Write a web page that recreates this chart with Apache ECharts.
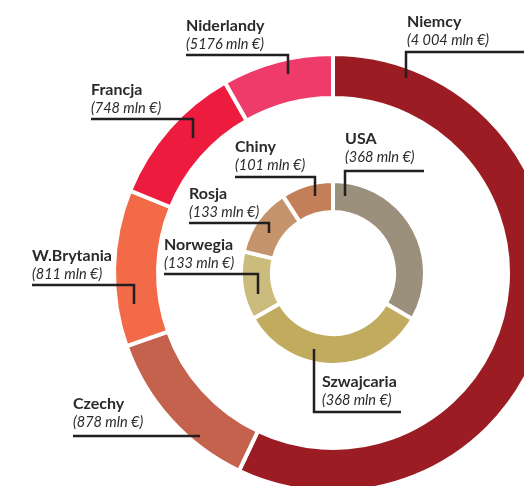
<!DOCTYPE html>
<html>
<head>
<meta charset="utf-8">
<script src="https://cdn.jsdelivr.net/npm/echarts@6/dist/echarts.min.js"></script>
<style>
  html, body { margin: 0; padding: 0; background: #fff; }
  #chart { width: 524px; height: 486px; }
</style>
</head>
<body>
<div id="chart"></div>
<script>
// Export partners, outer ring (mln €)
const outerNames = ['Niemcy', 'Czechy', 'W.Brytania', 'Francja', 'Niderlandy'];
const outerValues = [4004, 878, 811, 748, 576];
const outerValueText = ['4 004', '878', '811', '748', '5176'];
const outerColors = ['#9b1c23', '#c4624e', '#f26a48', '#ed1b3e', '#ef3b69'];

// Export partners, inner ring (mln €)
const innerNames = ['USA', 'Szwajcaria', 'Norwegia', 'Rosja', 'Chiny'];
const innerValues = [368, 368, 133, 133, 101];
const innerValueText = innerValues.map(String);
const innerColors = ['#9a907b', '#c1ab5e', '#cbbb7c', '#c6946c', '#c38058'];

const CX = 333, CY = 273;
const INK = '#2b2a29';
const FONT = 'Lato, sans-serif';

// Label placement: text block top-left and leader polyline
const outerLayout = [
  { x: 407, y: 13, line: [[406, 78], [406, 52], [530, 52]] },
  { x: 73, y: 395, line: [[200, 436], [73, 436]] },
  { x: 32, y: 247, line: [[134, 304], [134, 285], [32, 285]] },
  { x: 91, y: 81, line: [[193, 138], [193, 119], [91, 119]] },
  { x: 186, y: 17, line: [[288, 74], [288, 55], [186, 55]] }
];
const innerLayout = [
  { x: 345, y: 130, line: [[345, 196], [345, 171], [424, 171]] },
  { x: 322, y: 373, line: [[314, 349], [314, 412], [401, 412]] },
  { x: 164, y: 236, line: [[258, 294], [258, 274], [164, 274]] },
  { x: 189, y: 185, line: [[269, 233], [269, 223], [189, 223]] },
  { x: 235, y: 138, line: [[315, 196], [315, 177], [235, 177]] }
];

function ringData(names, values, colors) {
  return names.map((n, i) => ({ name: n, value: values[i], itemStyle: { color: colors[i] } }));
}

const richStyle = {
  n: { fontFamily: FONT, fontWeight: 'bold', fontSize: 16, lineHeight: 18, color: INK },
  v: { fontFamily: FONT, fontStyle: 'italic', fontSize: 14.5, lineHeight: 18, color: INK }
};

function ringSeries(names, values, colors, texts, layout, radius) {
  return {
    type: 'pie',
    center: [CX, CY],
    radius: radius,
    startAngle: 90,
    clockwise: true,
    avoidLabelOverlap: false,
    silent: true,
    animation: false,
    itemStyle: { borderColor: '#fff', borderWidth: 4 },
    label: {
      show: true,
      position: 'outside',
      formatter: p => '{n|' + p.name + '}\n{v|(' + texts[p.dataIndex] + ' mln €)}',
      rich: richStyle
    },
    labelLine: { show: false },
    labelLayout: p => {
      const L = layout[p.dataIndex];
      return { x: L.x, y: L.y, align: 'left', verticalAlign: 'top' };
    },
    data: ringData(names, values, colors)
  };
}

// Leader lines drawn above the rings
const leaders = outerLayout.concat(innerLayout).map(L => ({
  type: 'polyline',
  z: 100,
  silent: true,
  shape: { points: L.line },
  style: { stroke: '#231f20', lineWidth: 2.5, fill: null, lineJoin: 'miter' }
}));

const chart = echarts.init(document.getElementById('chart'), null, { renderer: 'canvas' });
chart.setOption({
  backgroundColor: '#fff',
  animation: false,
  series: [
    ringSeries(outerNames, outerValues, outerColors, outerValueText, outerLayout, [175, 219]),
    ringSeries(innerNames, innerValues, innerColors, innerValueText, innerLayout, [61, 92])
  ],
  graphic: leaders
});
</script>
</body>
</html>
